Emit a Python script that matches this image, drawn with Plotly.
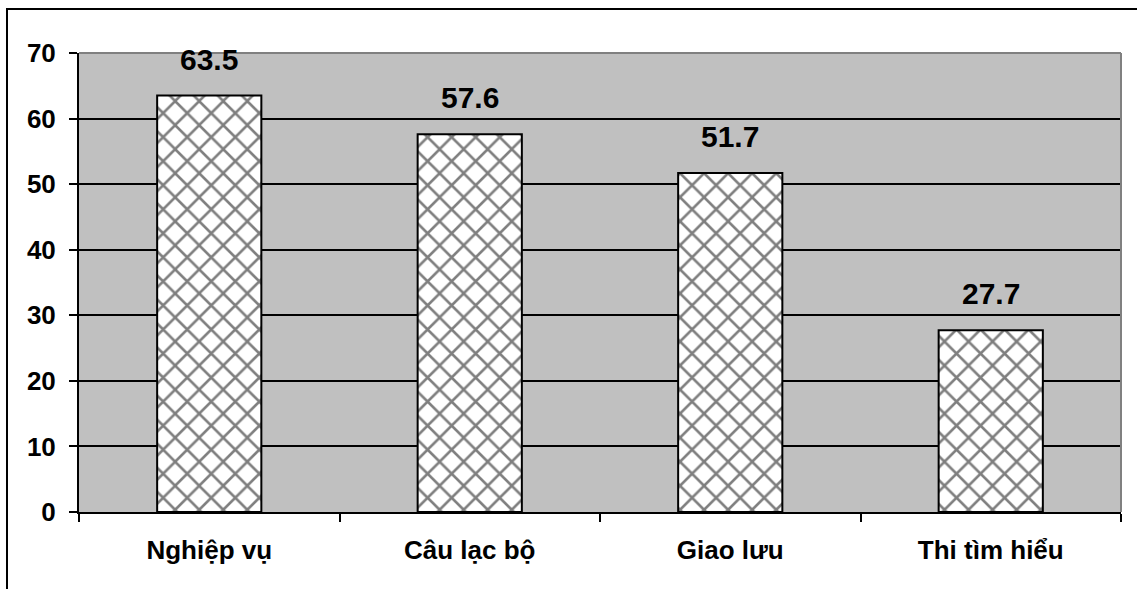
import plotly.graph_objects as go

# Survey categories and their percentages
categories = ["Nghiệp vụ", "Câu lạc bộ", "Giao lưu", "Thi tìm hiểu"]
values = [63.5, 57.6, 51.7, 27.7]
y_ticks = [0, 10, 20, 30, 40, 50, 60, 70]

FONT = "Arial, Liberation Sans, sans-serif"

fig = go.Figure()
fig.add_trace(go.Bar(
    x=categories,
    y=values,
    marker=dict(
        color="white",
        line=dict(color="black", width=2),
        pattern=dict(shape="x", fgcolor="black", bgcolor="white",
                     size=17, solidity=0.28, fillmode="overlay"),
    ),
    hoverinfo="skip",
))

# Value labels above each bar
for c, v in zip(categories, values):
    fig.add_annotation(
        x=c, y=v, text=f"{v}", showarrow=False,
        yanchor="bottom", yshift=18,
        font=dict(family=FONT, size=30, color="black", weight="bold"),
    )

fig.update_layout(
    width=1137, height=589,
    margin=dict(l=79, r=16, t=53, b=77),
    paper_bgcolor="white",
    plot_bgcolor="#C0C0C0",
    bargap=0.6,
    showlegend=False,
    xaxis=dict(
        type="category",
        showline=True, linecolor="black", linewidth=2,
        ticks="outside", tickson="boundaries", ticklen=8,
        tickcolor="black", tickwidth=2,
        showgrid=False,
        tickfont=dict(family=FONT, size=26, color="black", weight="bold"),
        ticklabelstandoff=14,
    ),
    yaxis=dict(
        range=[0, 70],
        tickvals=y_ticks,
        showline=True, linecolor="black", linewidth=2,
        ticks="outside", ticklen=8, tickcolor="black", tickwidth=2,
        showgrid=True, gridcolor="black", gridwidth=1.5,
        zeroline=False,
        tickfont=dict(family=FONT, size=26, color="black", weight="bold"),
        ticklabelstandoff=8,
    ),
    shapes=[
        # gray top and right edges of the plotting area
        dict(type="line", xref="paper", yref="paper", x0=0, x1=1, y0=1, y1=1,
             line=dict(color="#808080", width=2), layer="above"),
        dict(type="line", xref="paper", yref="paper", x0=1, x1=1, y0=0, y1=1,
             line=dict(color="#808080", width=2), layer="above"),
        # outer chart frame
        dict(type="rect", xref="paper", yref="paper",
             x0=-0.0691, x1=1.05, y0=-0.3, y1=1.0959,
             line=dict(color="black", width=2), layer="below"),
    ],
)

fig.write_html("out.html")
